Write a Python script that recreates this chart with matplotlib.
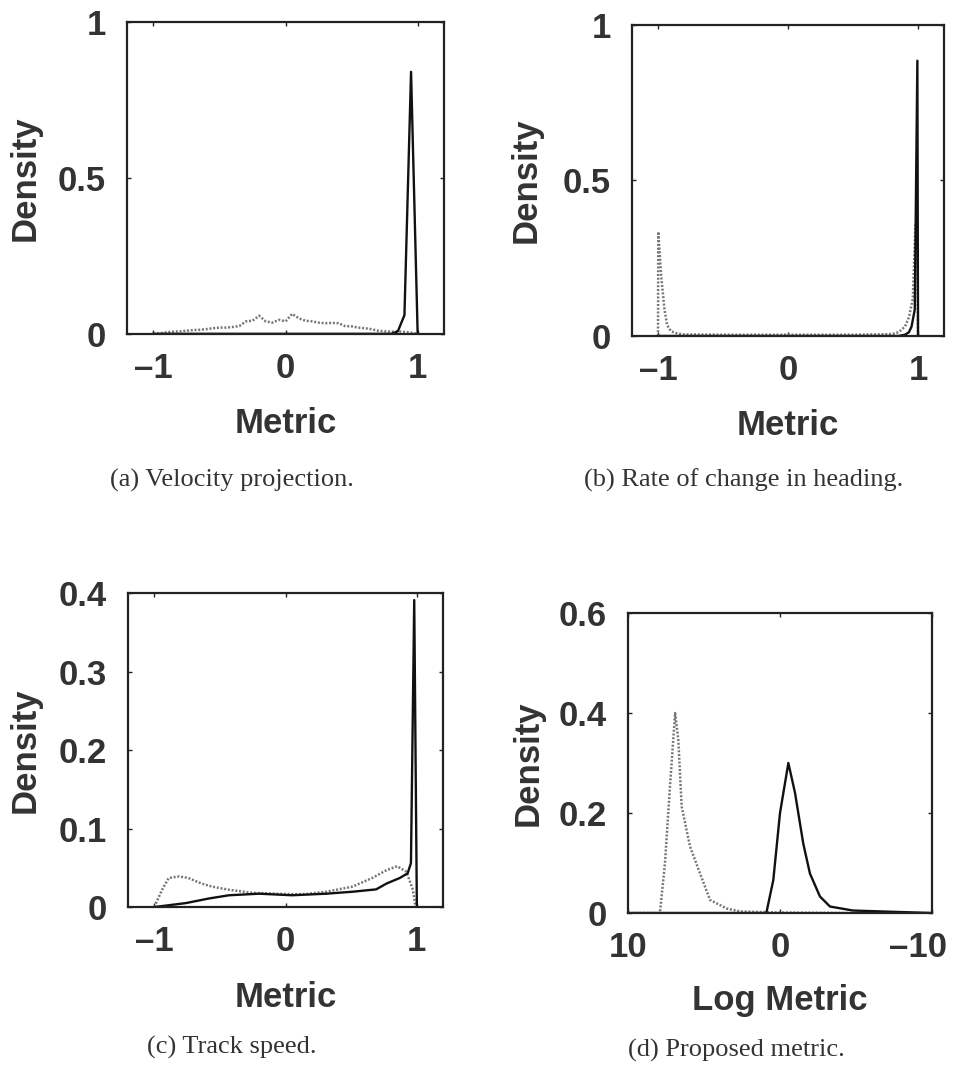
import matplotlib
matplotlib.use("Agg")
import matplotlib.pyplot as plt
from matplotlib.transforms import offset_copy

plt.rcParams['font.family'] = ['Liberation Sans', 'DejaVu Sans']
plt.rcParams['font.weight'] = 'bold'
plt.rcParams['axes.labelweight'] = 'bold'

TXT = '#333333'

# (a) velocity projection
a_x = [-1.0, -0.95, -0.9, -0.85, -0.8, -0.75, -0.7, -0.65, -0.6, -0.55, -0.5,
       -0.45, -0.4, -0.35, -0.3, -0.25, -0.2, -0.15, -0.1, -0.05, 0.0,
       0.05, 0.1, 0.15, 0.2, 0.25, 0.3, 0.35, 0.4, 0.45, 0.5,
       0.55, 0.6, 0.65, 0.7, 0.75, 0.8, 0.85, 0.9, 0.95, 1.0]
a_dot = [0.000, 0.002, 0.005, 0.007, 0.008, 0.010, 0.012, 0.013, 0.015, 0.018, 0.020,
         0.020, 0.022, 0.025, 0.040, 0.042, 0.058, 0.040, 0.036, 0.045, 0.040,
         0.064, 0.050, 0.042, 0.040, 0.036, 0.034, 0.035, 0.034, 0.025, 0.024,
         0.020, 0.018, 0.015, 0.010, 0.008, 0.007, 0.008, 0.006, 0.004, 0.000]
a_sol = [0.0] * 37 + [0.008, 0.06, 0.84, 0.0]

# (b) rate of change in heading
b_dot_x = [-1.0, -0.998, -0.975, -0.95, -0.93, -0.9, -0.85, -0.8, -0.5, 0.0, 0.5,
           0.8, 0.85, 0.9, 0.93, 0.96, 0.98, 0.995, 1.0]
b_dot = [0.0, 0.335, 0.19, 0.084, 0.035, 0.015, 0.008, 0.005, 0.004, 0.004, 0.004,
         0.006, 0.012, 0.03, 0.06, 0.12, 0.36, 0.365, 0.0]
b_sol_x = [-1.0, 0.85, 0.9, 0.93, 0.95, 0.975, 0.995, 1.0]
b_sol = [0.0, 0.0, 0.004, 0.012, 0.03, 0.085, 0.885, 0.0]

# (c) track speed
c_dot_x = [-1.0, -0.94, -0.89, -0.81, -0.74, -0.64, -0.56, -0.43, -0.25, 0.0, 0.15,
           0.31, 0.51, 0.66, 0.77, 0.85, 0.92, 0.97, 0.99]
c_dot = [0.0, 0.022, 0.037, 0.039, 0.037, 0.030, 0.026, 0.022, 0.018, 0.0165, 0.0165,
         0.0195, 0.026, 0.037, 0.047, 0.052, 0.045, 0.022, 0.0]
c_sol_x = [-1.0, -0.76, -0.58, -0.43, -0.2, 0.05, 0.31, 0.51, 0.69, 0.77, 0.87,
           0.93, 0.955, 0.98, 1.0]
c_sol = [0.0, 0.005, 0.011, 0.015, 0.017, 0.015, 0.017, 0.0195, 0.0225, 0.030, 0.037,
         0.043, 0.056, 0.391, 0.0]

# (d) proposed metric (log)
d_dot_x = [10, 7.9, 7.57, 7.24, 6.9, 6.69, 6.47, 5.92, 5.26, 4.6, 3.5, 2.6, 0, -5, -10]
d_dot = [0, 0, 0.099, 0.253, 0.40, 0.346, 0.213, 0.133, 0.079, 0.026, 0.009, 0.003,
         0.001, 0.0, 0.0]
d_sol_x = [10, 0.9, 0.44, 0.0, -0.55, -0.99, -1.53, -1.97, -2.63, -3.29, -4.8, -10]
d_sol = [0, 0, 0.066, 0.2, 0.30, 0.24, 0.139, 0.079, 0.033, 0.013, 0.005, 0.0]

captions = ["(a) Velocity projection.", "(b) Rate of change in heading.",
            "(c) Track speed.", "(d) Proposed metric."]


def panel(fig, rect, xs, ys, xlim, ylim, xticks, yticks, yticklabels, xlabel, ylab_x):
    ax = fig.add_axes(rect)
    (xd, yd), (xs_, ys_) = xs, ys
    ax.plot(xd, yd, color='#777777', lw=1.8, linestyle=(0, (0.8, 0.7)))
    ax.plot(xs_, ys_, color='#111111', lw=1.7)
    ax.set_xlim(*xlim)
    ax.set_ylim(*ylim)
    ax.set_xticks(xticks)
    ax.set_yticks(yticks)
    ax.set_yticklabels(yticklabels)
    ax.set_xticklabels([str(t).replace('-', '\u2013') for t in xticks])
    ax.tick_params(direction='in', length=3, width=1, top=True, right=True,
                   labelsize=25, labelcolor=TXT, color='#222222')
    ax.tick_params(axis='x', pad=13)
    ax.tick_params(axis='y', pad=15)
    for s in ax.spines.values():
        s.set_linewidth(1.6)
        s.set_color('#222222')
    ax.set_xlabel(xlabel, fontsize=25, color=TXT, fontweight='bold')
    ax.set_ylabel('Density', fontsize=25, color=TXT, fontweight='bold')
    ax.xaxis.set_label_coords(0.5, -0.235)
    ax.yaxis.set_label_coords(ylab_x, 0.5)
    return ax


fig = plt.figure(figsize=(9.55, 10.7), dpi=100)

panel(fig, [0.133, 0.688, 0.332, 0.2915], (a_x, a_dot), (a_x, a_sol),
      (-1.2, 1.2), (0, 1), [-1, 0, 1], [0, 0.5, 1], ['0', '0.5', '1'], 'Metric', -0.27)
panel(fig, [0.6618, 0.686, 0.3267, 0.2907], (b_dot_x, b_dot), (b_sol_x, b_sol),
      (-1.2, 1.2), (0, 1), [-1, 0, 1], [0, 0.5, 1], ['0', '0.5', '1'], 'Metric', -0.285)
panel(fig, [0.134, 0.1523, 0.330, 0.2935], (c_dot_x, c_dot), (c_sol_x, c_sol),
      (-1.2, 1.2), (0, 0.4), [-1, 0, 1], [0, 0.1, 0.2, 0.3, 0.4],
      ['0', '0.1', '0.2', '0.3', '0.4'], 'Metric', -0.273)
axd = panel(fig, [0.6576, 0.1467, 0.3183, 0.2804], (d_dot_x, d_dot), (d_sol_x, d_sol),
            (10, -10), (0, 0.6), [10, 0, -10], [0, 0.2, 0.4, 0.6],
            ['0', '0.2', '0.4', '0.6'], 'Log Metric', -0.273)

# last label of (d) sits a bit left of its tick, as in the original
fig.canvas.draw()
lab = axd.get_xticklabels()[-1]
lab.set_transform(offset_copy(lab.get_transform(), fig=fig, x=-14, y=0, units='dots'))

cap_pos = [(232, 480), (744, 480), (232, 1047), (736, 1050)]
for (cx, cy), cap in zip(cap_pos, captions):
    fig.text(cx / 955, 1 - cy / 1070, cap, ha='center', va='center',
             fontsize=19, fontweight='normal', color=TXT,
             family=['Liberation Serif', 'DejaVu Serif'])

fig.savefig('out.png', dpi=100)
